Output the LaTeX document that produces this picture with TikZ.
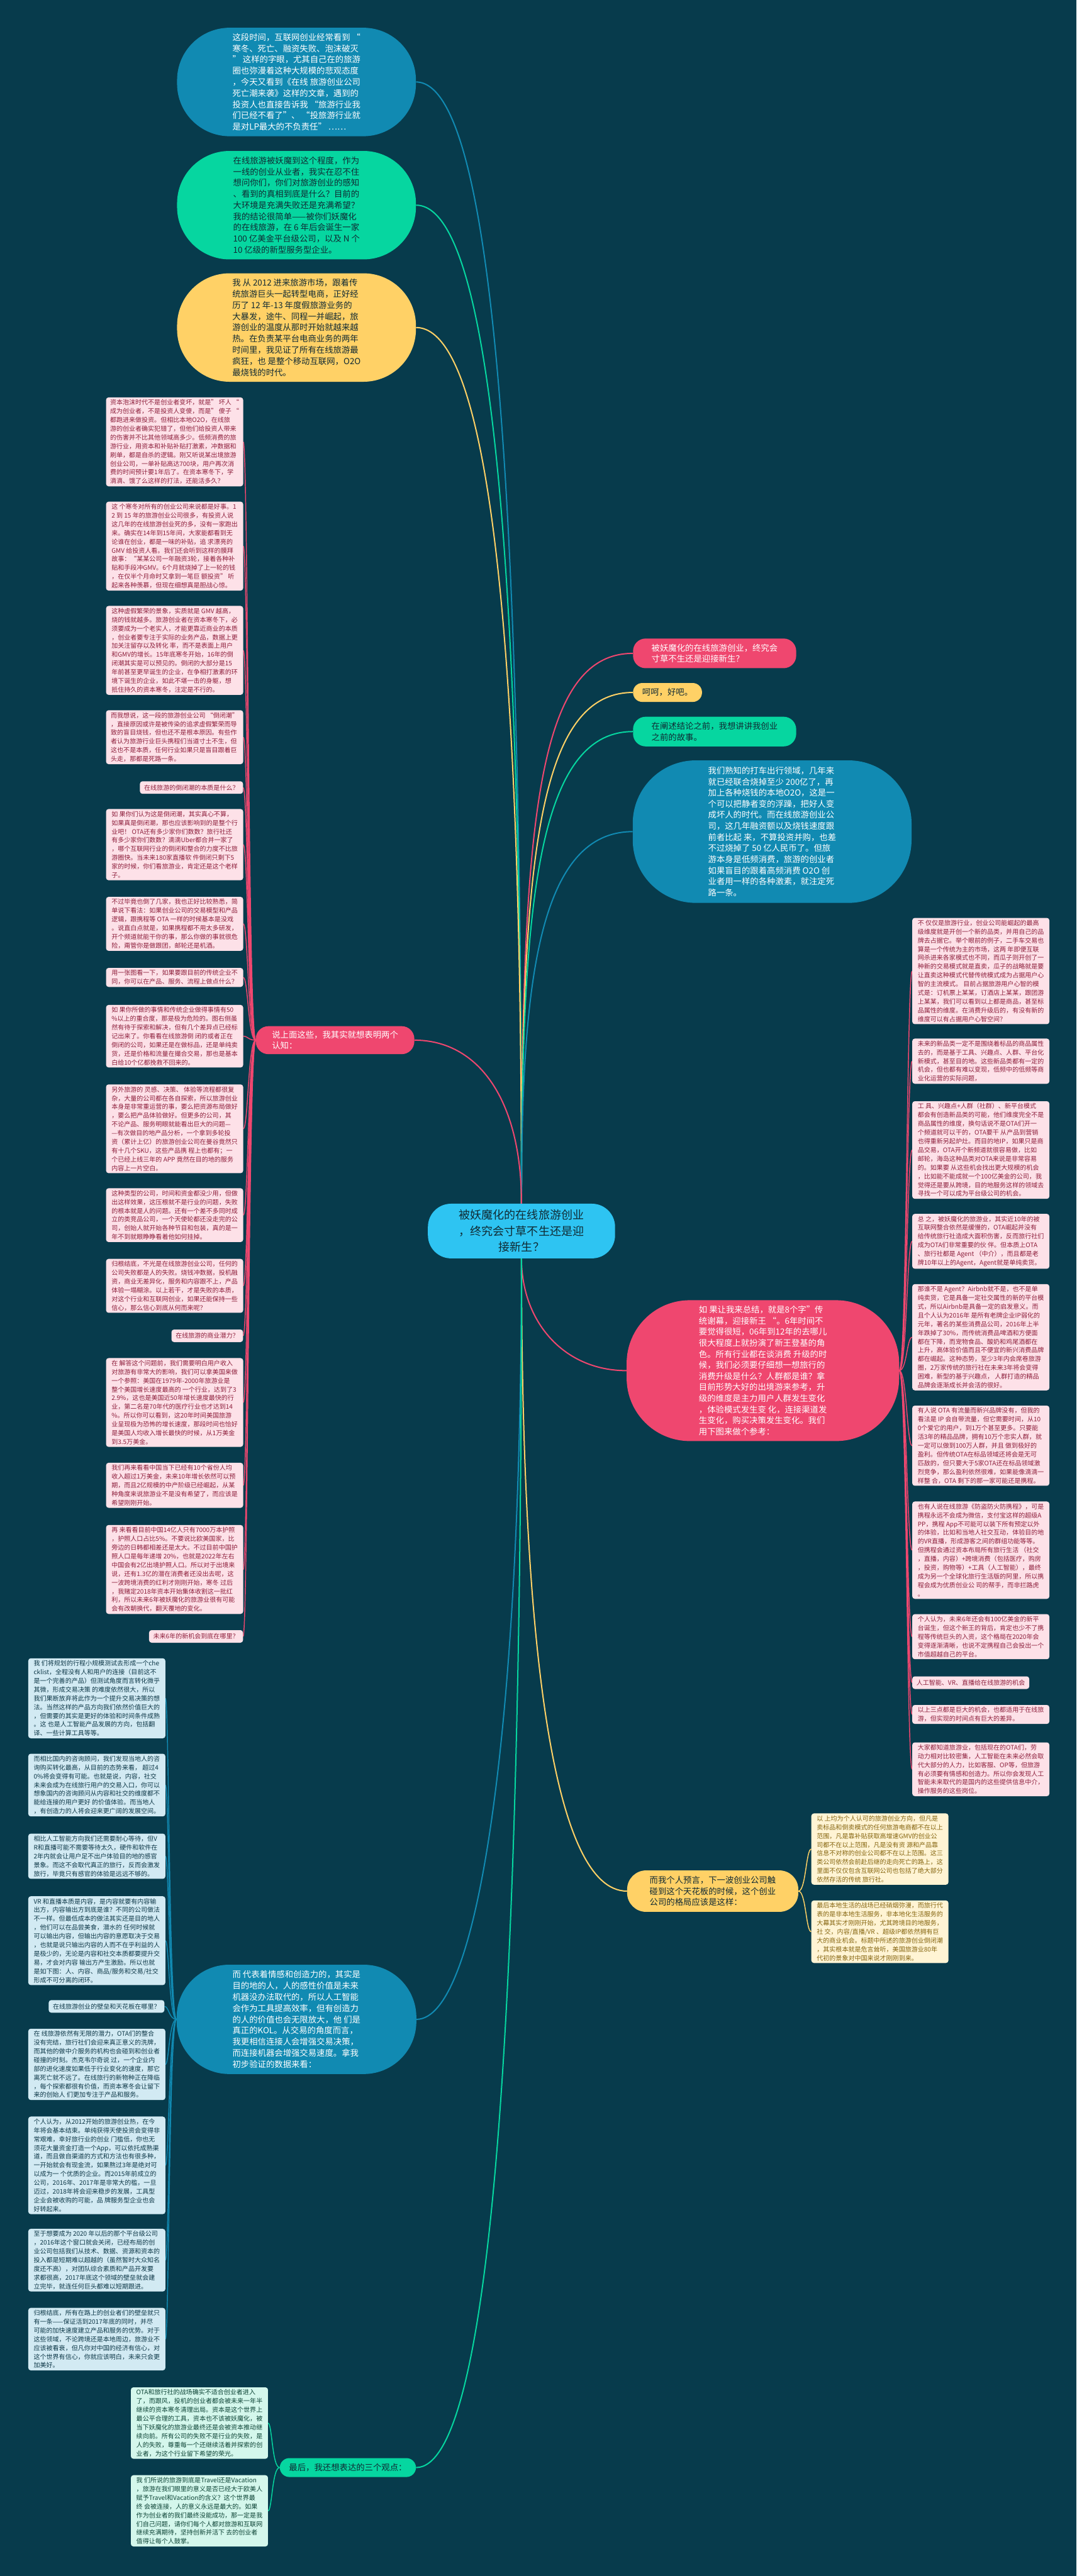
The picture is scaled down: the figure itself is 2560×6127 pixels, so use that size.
\documentclass[tikz,border=0pt]{standalone}
\usepackage{fontspec}
\setmainfont{Noto Sans CJK SC}
\usetikzlibrary{calc}
\pgfdeclarelayer{bg}
\pgfsetlayers{bg,main}
\definecolor{bgc}{HTML}{073B4C}
\definecolor{cpink}{HTML}{EF476F}
\definecolor{cyel}{HTML}{FFD166}
\definecolor{cgrn}{HTML}{06D6A0}
\definecolor{cblu}{HTML}{118AB2}
\definecolor{ccen}{HTML}{2EC4F2}
\definecolor{pinkfill}{HTML}{FDE1E8}
\definecolor{pinktxt}{HTML}{8E1F3C}
\definecolor{blufill}{HTML}{D2EAF3}
\definecolor{blutxt}{HTML}{0E3848}
\definecolor{yelfill}{HTML}{FFF4D4}
\definecolor{yeltxt}{HTML}{85650F}
\definecolor{grnfill}{HTML}{D4F7EC}
\definecolor{grntxt}{HTML}{0D4436}
\definecolor{darktxt}{HTML}{102A33}
\newcommand\mmL[3]{\draw[#1] (#2.west) .. controls ($(#2.west)+(-18,0)$) and ($(#2.west |- #3.east)+(-18,0)$) .. (#3.east);}
\newcommand\mmR[3]{\draw[#1] (#2.east) .. controls ($(#2.east)+(18,0)$) and ($(#2.east |- #3.west)+(18,0)$) .. (#3.west);}
\tikzset{
  leaf/.style={rounded corners=6pt, inner xsep=8pt, inner ysep=5pt, align=left, minimum width=326pt, font=\fontsize{15}{20.8}\selectfont},
  shortleaf/.style={rounded corners=6pt, inner xsep=10pt, inner ysep=8pt, align=left, font=\fontsize{15}{20.8}\selectfont},
  pk/.style={fill=pinkfill, text=pinktxt},
  bu/.style={fill=blufill, text=blutxt},
  ye/.style={fill=yelfill, text=yeltxt},
  gr/.style={fill=grnfill, text=grntxt},
  bubble/.style={rounded corners=125pt, minimum width=568pt, minimum height=258pt, inner sep=0pt, align=left, font=\fontsize{20}{26.6}\selectfont},
  big/.style={rounded corners=150pt, inner sep=0pt, align=left, font=\fontsize{20}{26.4}\selectfont},
  topic/.style={rounded corners=30pt, inner ysep=13pt, align=left, font=\fontsize{20}{26}\selectfont, anchor=west},
  mainline/.style={line width=3pt},
  subline/.style={line width=2.2pt},
}
\begin{document}
\begin{tikzpicture}[x=1pt,y=-1pt]
\begin{pgfonlayer}{bg}
\fill[bgc] (0,0) rectangle (2560,6127);
\end{pgfonlayer}
\useasboundingbox (0,0) rectangle (2560,6127);

% ---------- center ----------
\node[fill=ccen, text=darktxt, rounded corners=55pt, minimum width=445pt, minimum height=130pt, align=center, font=\fontsize{27}{38}\selectfont] (c) at (1240,2928) {被妖魔化的在线旅游创业\\，终究会寸草不生还是迎\\接新生？};

% ---------- top bubbles ----------
\node[bubble, fill=cblu, text=white] (tb) at (705,195) {这段时间，互联网创业经常看到 “\\寒冬、死亡、融资失败、泡沫破灭\\” 这样的字眼，尤其自己在的旅游\\圈也弥漫着这种大规模的悲观态度\\，今天又看到《在线 旅游创业公司\\死亡潮来袭》这样的文章，遇到的\\投资人也直接告诉我 “旅游行业我\\们已经不看了”、 “投旅游行业就\\是对LP最大的不负责任” ……};
\node[bubble, fill=cgrn, text=darktxt] (tg) at (705,488) {在线旅游被妖魔到这个程度，作为\\一线的创业从业者，我实在忍不住\\想问你们，你们对旅游创业的感知\\、看到的真相到底是什么？目前的\\大环境是充满失败还是充满希望？\\我的结论很简单——被你们妖魔化\\的在线旅游，在 6 年后会诞生一家\\100 亿美金平台级公司，以及 N 个\\ 10 亿级的新型服务型企业。};
\node[bubble, fill=cyel, text=darktxt] (ty) at (705,779) {我 从 2012 进来旅游市场，跟着传\\统旅游巨头一起转型电商，正好经\\历了 12 年-13 年度假旅游业务的\\大暴发，途牛、同程一并崛起，旅\\游创业的温度从那时开始就越来越\\热。在负责某平台电商业务的两年\\时间里，我见证了所有在线旅游最\\疯狂，也 是整个移动互联网，O2O\\最烧钱的时代。};

% ---------- right topics ----------
\node[topic, fill=cpink, text=white, inner xsep=37pt, minimum width=388pt] (r1t) at (1505,1554) {被妖魔化的在线旅游创业，终究会\\寸草不生还是迎接新生？};
\node[topic, fill=cyel, text=darktxt, inner xsep=22pt, rounded corners=22pt] (r2t) at (1505,1647) {呵呵，好吧。};
\node[topic, fill=cgrn, text=darktxt, inner xsep=37pt, minimum width=388pt] (r3t) at (1505,1740) {在阐述结论之前，我想讲讲我创业\\之前的故事。};
\node[big, fill=cblu, text=white, minimum width=663pt, minimum height=339pt] (r4t) at (1836,1978) {我们熟知的打车出行领域，几年来\\就已经联合烧掉至少 200亿了，再\\加上各种烧钱的本地O2O，这是一\\个可以把静者变的浮躁，把好人变\\成坏人的时代。而在线旅游创业公\\司，这几年融资额以及烧钱速度跟\\前者比起 来，不算投资并购，也差\\不过烧掉了 50 亿人民币了。但旅\\游本身是低频消费，旅游的创业者\\如果盲目的跟着高频消费 O2O 创\\业者用一样的各种激素，就注定死\\路一条。};

% ---------- left red topic ----------
\node[topic, fill=cpink, text=white, inner xsep=36pt, inner ysep=11pt, minimum width=377pt] (lr) at (608,2474) {说上面这些，我其实就想表明两个\\认知：};

% ---------- left pink leaves ----------
\node[leaf, pk, anchor=north west] (p1) at (252,945) {资本泡沫时代不是创业者变坏，就是” 坏人 “\\成为创业者，不是投资人变傻，而是” 傻子 “\\都跑进来做投资。但相比本地O2O，在线旅\\游的创业者确实犯错了，但他们给投资人带来\\的伤害并不比其他领域高多少。低频消费的旅\\游行业，用资本和补贴补贴打激素，冲数据和\\刷单，都是自杀的逻辑。刚又听说某出境旅游\\创业公司，一单补贴高达700块，用户再次消\\费的时间预计要1年后了。在资本寒冬下，学\\滴滴、饿了么这样的打法，还能活多久？};
\node[leaf, pk, anchor=north west] (p2) at (252,1193) {这 个寒冬对所有的创业公司来说都是好事。1\\2 到 15 年的旅游创业公司很多，有投资人说\\这几年的在线旅游创业死的多，没有一家跑出\\来。确实在14年到15年间，大家能都看到无\\论谁在创业，都是一味的补贴，追 求漂亮的\\GMV 给投资人看。我们还会听到这样的膜拜\\故事：“某某公司一年融资3轮，接着各种补\\贴和手段冲GMV。6个月就烧掉了上一轮的钱\\，在仅半个月命时又拿到一笔巨 额投资” 听\\起来各种羡慕，但现在细想真是胆战心惊。};
\node[leaf, pk, anchor=north west] (p3) at (252,1441) {这种虚假繁荣的景象，实质就是 GMV 越高，\\烧的钱就越多。旅游创业者在资本寒冬下，必\\须要成为一个老实人，才能更靠近商业的本质\\，创业者要专注于实际的业务产品，数据上更\\加关注留存以及转化 率，而不是表面上用户\\和GMV的增长。15年底寒冬开始，16年的倒\\闭潮其实是可以预见的。倒闭的大部分是15\\年前甚至更早诞生的企业，在争相打激素的环\\境下诞生的企业，如此不堪一击的身躯，想\\抵住持久的资本寒冬，注定是不行的。};
\node[leaf, pk, anchor=north west] (p4) at (252,1689) {而我想说，这一段的旅游创业公司 “倒闭潮”\\，直接原因或许是被传染的追求虚假繁荣而导\\致的盲目烧钱，但也还不是根本原因。有些作\\者认为旅游行业巨头携程们当道寸土不生，但\\这也不是本质，任何行业如果只是盲目跟着巨\\头走，那都是死路一条。};
\node[shortleaf, pk, anchor=north east] (p5) at (578,1858) {在线旅游的倒闭潮的本质是什么？};
\node[leaf, pk, anchor=north west] (p6) at (252,1924) {如 果你们认为这是倒闭潮，其实真心不算，\\如果真是倒闭潮，那也应该影响到的是整个行\\业吧！ OTA还有多少家你们数数？旅行社还\\有多少家你们数数？滴滴Uber都合并一家了\\，哪个互联网行业的倒闭和整合的力度不比旅\\游圈快。当未来180家直播软 件倒闭只剩下5\\家的时候，你们看旅游业，肯定还是这个老样\\子。};
\node[leaf, pk, anchor=north west] (p7) at (252,2133) {不过毕竟也倒了几家，我也正好比较熟悉，简\\单说下看法：如果创业公司的交易模型和产品\\逻辑，跟携程等 OTA 一样的时候基本是没戏\\。说直白点就是，如果携程都不用太多研发，\\开个频道就能干你的事，那么你做的事就很危\\险，甭管你是做跟团，邮轮还是机酒。};
\node[leaf, pk, anchor=north west] (p8) at (252,2302) {用一张图看一下，如果要跟目前的传统企业不\\同，你可以在产品、服务、流程上做点什么？};
\node[leaf, pk, anchor=north west] (p9) at (252,2390) {如 果你所做的事情和传统企业做得事情有50\\\%以上的重合度，那是极为危险的。图右侧虽\\然有待于探索和解决，但有几个差异点已经标\\记出来了。你看看在线旅游倒 闭的或者正在\\倒闭的公司，如果还是在做标品，还是单纯卖\\货，还是价格和流量在撮合交易，那也是基本\\白给10个亿都挽救不回来的。};
\node[leaf, pk, anchor=north west] (p10) at (252,2579) {另外旅游的 灵感、决策、 体验等流程都很复\\杂，大量的公司都在各自探索，所以旅游创业\\本身是非常重运营的事，要么把资源布局做好\\，要么把产品体验做好。但更多的公司，其\\不论产品、服务明眼就能看出巨大的问题—\\—有次做目的地产品分析，一个拿到多轮投\\资（累计上亿）的旅游创业公司在曼谷竟然只\\有十几个SKU，这些产品携 程上也都有；一\\个已经上线三年的 APP 竟然在目的地的服务\\内容上一片空白。};
\node[leaf, pk, anchor=north west] (p11) at (252,2826) {这种类型的公司，时间和资金都没少用，但做\\出这样效果，这压根就不是行业的问题，失败\\的根本就是人的问题。还有一个差不多同时成\\立的类竞品公司，一个天使轮都还没走完的公\\司，创始人就开始各种节目和包装，真的是一\\年不到就眼睁睁看着他如何挂掉。};
\node[leaf, pk, anchor=north west] (p12) at (252,2994) {归根结底，不光是在线旅游创业公司，任何的\\公司失败都是人的失败。烧钱冲数据，投机融\\资，商业无差异化，服务和内容跟不上，产品\\体验一塌糊涂。以上若干，才是失败的本质，\\对这个行业和互联网创业，如果还能保持一些\\信心，那么信心到底从何而来呢？};
\node[shortleaf, pk, anchor=north east] (p13) at (578,3162) {在线旅游的商业潜力？};
\node[leaf, pk, anchor=north west] (p14) at (252,3230) {在 解答这个问题前，我们需要明白用户收入\\对旅游有非常大的影响，我们可以拿美国来做\\一个参照：美国在1979年-2000年旅游业是\\整个美国增长速度最高的 一个行业，达到了3\\2.9\%，这也是美国近50年增长速度最快的行\\业，第二名是70年代的医疗行业也才达到14\\\%。所以你可以看到，这20年时间美国旅游\\业呈现极为恐怖的增长速度，那段时间也恰好\\是美国人均收入增长最快的时候，从1万美金\\到3.5万美金。};
\node[leaf, pk, anchor=north west] (p15) at (252,3479) {我们再来看看中国当下已经有10个省份人均\\收入超过1万美金，未来10年增长依然可以预\\期，而且2亿规模的中产阶级已经崛起，从某\\种角度来说旅游业不是没有希望了，而应该是\\希望刚刚开始。};
\node[leaf, pk, anchor=north west] (p16) at (252,3627) {再 来看看目前中国14亿人只有7000万本护照\\，护照人口占比5\%。不要说比欧美国家，比\\旁边的日韩都相差还是太大。不过目前中国护\\照人口是每年递增 20\%，也就是2022年左右\\中国会有2亿出境护照人口。所以对于出境来\\说，还有1.3亿的潜在消费者还没出去呢，这\\一波跨境消费的红利才刚刚开始，寒冬 过后\\，我赌定2018年资本开始集体收割这一批红\\利，所以未来6年被妖魔化的旅游业很有可能\\会有改朝换代，翻天覆地的变化。};
\node[shortleaf, pk, anchor=north east] (p17) at (578,3877) {未来6年的新机会到底在哪里？};

% ---------- right red ellipse + leaves ----------
\node[big, fill=cpink, text=white, minimum width=648pt, minimum height=335pt] (re) at (1814,3260) {如 果让我来总结，就是8个字”传\\统谢幕，迎接新王 “。6年时间不\\要觉得很短，06年到12年的去哪儿\\很大程度上就扮演了新王登基的角\\色。所有行业都在谈消费 升级的时\\候，我们必须要仔细想一想旅行的\\消费升级是什么？人群都是谁？拿\\目前形势大好的出境游来参考，升\\级的维度是主力用户人群发生变化\\，体验模式发生变 化，连接渠道发\\生变化，购买决策发生变化。我们\\用下图来做个参考：};
\node[leaf, pk, anchor=north west] (r1) at (2169,2183) {不 仅仅是旅游行业，创业公司能崛起的最高\\级维度就是开创一个新的品类，并用自己的品\\牌去占据它。举个眼前的例子，二手车交易也\\算是一个传统为主的市场，这两 年即便互联\\网杀进来各家模式也不同，而瓜子则开创了一\\种新的交易模式就是直卖，瓜子的战略就是要\\让直卖这种模式代替传统模式成为占据用户心\\智的主流模式。 目前占据旅游用户心智的模\\式是：订机票上某某，订酒店上某某，跟团游\\上某某，我们可以看到以上都是商品，甚至标\\品属性的维度。在消费升级后的，有没有新的\\维度可以有占据用户心智空间？};
\node[leaf, pk, anchor=north west] (r2) at (2169,2470) {未来的新品类一定不是围绕着标品的商品属性\\去的，而是基于工具、兴趣点、人群、平台化\\新模式，甚至目的地。这些新品类都有一定的\\机会，但也都有难以变现，低频中的低频等商\\业化运营的实际问题，};
\node[leaf, pk, anchor=north west] (r3) at (2169,2619) {工 具、兴趣点+人群（社群）、新平台模式\\都会有创造新品类的可能，他们维度完全不是\\商品属性的维度，换句话说不是OTA们开一\\个频道就可以干的，OTA要干 从产品到营销\\也得重新另起炉灶。而目的地IP，如果只是商\\品交易，OTA开个新频道就很容易做，比如\\邮轮，海岛这种品类对OTA来说是非常容易\\的。如果要 从这些机会找出更大规模的机会\\，比如能不能成就一个100亿美金的公司，我\\觉得还是要从跨境，目的地服务这样的领域去\\寻找一个可以成为平台级公司的机会。};
\node[leaf, pk, anchor=north west] (r4) at (2169,2887) {总 之，被妖魔化的旅游业，其实近10年的被\\互联网整合依然是缓慢的，OTA崛起并没有\\给传统旅行社造成大面积伤害，反而旅行社们\\成为OTA们非常重要的伙 伴。但本质上OTA\\、旅行社都是 Agent （中介），而且都是老\\牌10年以上的Agent，Agent就是单纯卖货。};
\node[leaf, pk, anchor=north west] (r5) at (2169,3054) {那谁不是 Agent？Airbnb就不是，也不是单\\纯卖货，它是具备一定社交属性的新的平台模\\式，所以Airbnb是具备一定的启发意义。而\\且个人认为2016年 是所有老牌企业IP弱化的\\元年，著名的某些消费品公司，2016年上半\\年跌掉了30\%，而传统消费品啤酒和方便面\\都在下降，而宠物食品、酸奶和鸡尾酒都在\\上升，高体验价值而且不便宜的新兴消费品牌\\都在崛起。这种态势，至少3年内会席卷旅游\\圈，2万家传统的旅行社在未来3年将会变得\\困难，新型的基于兴趣点， 人群打造的精品\\品牌会逐渐成长并会活的很好。};
\node[leaf, pk, anchor=north west] (r6) at (2169,3343) {有人说 OTA 有流量而新兴品牌没有，但我的\\看法是 IP 会自带流量，但它需要时间，从10\\0个爱它的用户，到1万个甚至更多。只要能\\活3年的精品品牌，拥有10万个忠实人群，就\\一定可以做到100万人群，并且 做到极好的\\盈利。但传统OTA在标品领域还将会是无可\\匹敌的，但只要大于5家OTA还在标品领域激\\烈竞争，那么盈利依然很难，如果能像滴滴一\\样整 合，OTA 剩下的那一家可能还是携程。};
\node[leaf, pk, anchor=north west] (r7) at (2169,3571) {也有人说在线旅游《防盗防火防携程》，可是\\携程永远不会成为微信，支付宝这样的超级A\\PP，携程 App不可能可以装下所有预定以外\\的体验，比如和当地人社交互动，体验目的地\\的VR直播，形成游客之间的群组功能等等。\\但携程会通过资本布局所有旅行生活 （社交\\，直播，内容）+跨境消费（包括医疗，购房\\，投资，购物等）+工具（人工智能），最终\\成为另一个全球化旅行生活版的阿里，所以携\\程会成为优质创业公 司的帮手，而非拦路虎\\。};
\node[leaf, pk, anchor=north west] (r8) at (2169,3839) {个人认为，未来6年还会有100亿美金的新平\\台诞生，但这个新王的背后，肯定也少不了携\\程等传统巨头的入资，这个格局在2020年会\\变得逐渐清晰，也说不定携程自己会投出一个\\市值超越自己的平台。};
\node[shortleaf, pk, anchor=north west] (r9) at (2169,3987) {人工智能、VR、直播给在线旅游的机会};
\node[leaf, pk, anchor=north west] (r10) at (2169,4055) {以上三点都是巨大的机会，也都适用于在线旅\\游，但实现的时间点有巨大的差异。};
\node[leaf, pk, anchor=north west] (r11) at (2169,4144) {大家都知道旅游业，包括现在的OTA们，劳\\动力相对比较密集，人工智能在未来必然会取\\代大部分的人力，比如客服、OP等，但旅游\\有必须要有情感和创造力。所以你会发现人工\\智能未来取代的是国内的这些提供信息中介，\\操作服务的这些岗位。};

% ---------- yellow topic + leaves ----------
\node[topic, fill=cyel, text=darktxt, inner xsep=48pt, inner ysep=14pt, rounded corners=45pt, minimum width=407pt] (yn) at (1491,4498) {而我个人预言，下一波创业公司触\\碰到这个天花板的时候，这个创业\\公司的格局应该是这样：};
\node[leaf, ye, anchor=north west] (y1) at (1929,4313) {以 上均为个人认可的旅游创业方向，但凡是\\卖标品和倒卖模式的任何旅游电商都不在以上\\范围，凡是靠补贴获取高增速GMV的创业公\\司都不在以上范围，凡是没有资 源和产品靠\\信息不对称的创业公司都不在以上范围。这三\\类公司依然会前赴后继的走向死亡的路上，这\\里面不仅仅包含互联网公司也包括了绝大部分\\依然存活的传统 旅行社。};
\node[leaf, ye, anchor=north west] (y2) at (1929,4520) {最后本地生活的战场已经硝烟弥漫，而旅行代\\表的是非本地生活服务，非本地化生活服务的\\大幕其实才刚刚开始，尤其跨境目的地服务，\\社 交，内容/直播/VR 、超级IP都依然拥有巨\\大的商业机会。标题中所述的旅游创业倒闭潮\\，其实根本就是危言耸听，美国旅游业80年\\代初的景象对中国来说才刚刚到来。};

% ---------- bottom blue bubble + leaves ----------
\node[bubble, fill=cblu, text=white, minimum width=570pt, minimum height=260pt] (bb) at (705,4803) {而 代表着情感和创造力的，其实是\\目的地的人，人的感性价值是未来\\机器没办法取代的，所以人工智能\\会作为工具提高效率，但有创造力\\的人的价值也会无限放大，他 们是\\真正的KOL。从交易的角度而言，\\我更相信连接人会增强交易决策，\\而连接机器会增强交易速度。拿我\\初步验证的数据来看：};
\node[leaf, bu, anchor=north west] (b1) at (67,3944) {我 们将规划的行程小规模测试去形成一个che\\cklist，全程没有人和用户的连接（目前这不\\是一个完善的产品）但测试角度而言转化微乎\\其微，形成交易决策 的难度依然很大，所以\\我们果断放弃将此作为一个提升交易决策的想\\法。当然这样的产品方向我们依然价值巨大的\\，但需要的其实是更好的体验和时间条件成熟\\。这 也是人工智能产品发展的方向，包括翻\\译、一些计算工具等等。};
\node[leaf, bu, anchor=north west] (b2) at (67,4171) {而相比国内的咨询顾问，我们发现当地人的咨\\询购买转化最高，从目前的态势来看， 超过4\\0\%将会变得有可能。也就是说，内容，社交\\未来会成为在线旅行用户的交易入口，你可以\\想象国内的咨询顾问从内容和社交的维度都不\\能给连接的用户更好 的价值体验。而当地人\\，有创造力的人将会迎来更广阔的发展空间。};
\node[leaf, bu, anchor=north west] (b3) at (67,4361) {相比人工智能方向我们还需要耐心等待，但V\\R和直播可能不需要等待太久，硬件和软件在\\2年内就会让用户足不出户体验目的地的感官\\景象。而这不会取代真正的旅行，反而会激发\\旅行，毕竟只有感官的体验是远远不够的。};
\node[leaf, bu, anchor=north west] (b4) at (67,4510) {VR 和直播本质是内容，是内容就要有内容输\\出方，内容输出方到底是谁？不同的公司做法\\不一样。但最低成本的做法其实还是目的地人\\，他们可以在品尝美食，潜水的 任何时候就\\可以输出内容，但输出内容的意愿取决于交易\\，也就是说只输出内容的人而不在乎利益的人\\是极少的，无论是内容和社交本质都要提升交\\易，才会对内容 输出方产生激励。所以也就\\是如下图：人、内容、商品/服务和交易/社交\\形成不可分离的闭环。};
\node[shortleaf, bu, anchor=north east] (b5) at (391,4757) {在线旅游创业的壁垒和天花板在哪里？};
\node[leaf, bu, anchor=north west] (b6) at (67,4825) {在 线旅游依然有无限的潜力，OTA们的整合\\没有完结，旅行社们会迎来真正意义的洗牌，\\而其他的做中介服务的机构也会碰到和创业者\\碰撞的时刻。杰克韦尔奇说 过，一个企业内\\部的进化速度如果低于行业变化的速度，那它\\离死亡就不远了。在线旅行的新物种正在降临\\，每个探索都很有价值，而资本寒冬会让留下\\来的创始人 们更加专注于产品和服务。};
\node[leaf, bu, anchor=north west] (b7) at (67,5034) {个人认为，从2012开始的旅游创业热，在今\\年将会基本结束。单纯获得天使投资会变得非\\常艰难，幸好旅行业的创业 门槛低，你也无\\须花大量资金打造一个App，可以依托成熟渠\\道，而且做自渠道的方式和方法也有很多种，\\一开始就会有现金流，如果熬过3年是绝对可\\以成为一 个优质的企业。而2015年前成立的\\公司，2016年、2017年是非常大的槛，一旦\\迈过，2018年将会迎来稳步的发展，工具型\\企业会被收购的可能，品 牌服务型企业也会\\好转起来。};
\node[leaf, bu, anchor=north west] (b8) at (67,5301) {至于想要成为 2020 年以后的那个平台级公司\\，2016年这个窗口就会关闭，已经布局的创\\业公司包括我们从技术、数据、资源和资本的\\投入都是短期难以超越的（虽然暂时大众知名\\度还不高），对团队综合素质和产品开发要\\求都很高，2017年底这个领域的壁垒就会建\\立完毕，就连任何巨头都难以短期跟进。};
\node[leaf, bu, anchor=north west] (b9) at (67,5489) {归根结底，所有在路上的创业者们的壁垒就只\\有一条——保证活到2017年底的同时，并尽\\可能的加快速度建立产品和服务的优势。对于\\这些领域，不论跨境还是本地周边，旅游业不\\应该被看衰，但凡你对中国的经济有信心，对\\这个世界有信心，你就应该明白，未来只会更\\加美好。};

% ---------- green bottom topic + leaves ----------
\node[topic, fill=cgrn, text=darktxt, inner xsep=22pt, rounded corners=23pt] (gn) at (665,5869) {最后，我还想表达的三个观点：};
\node[leaf, gr, anchor=north west] (m1) at (311,5678) {OTA和旅行社的战场确实不适合创业者进入\\了，而跟风，投机的创业者都会被未来一年半\\继续的资本寒冬清理出局。资本是这个世界上\\最公平合理的工具，资本也不该被妖魔化，被\\当下妖魔化的旅游业最终还是会被资本推动继\\续向前。所有公司的失败不是行业的失败，是\\人的失败，尊重每一个还继续活着并探索的创\\业者，为这个行业留下希望的荣光。};
\node[leaf, gr, anchor=north west] (m2) at (311,5887) {我 们所说的旅游到底是Travel还是Vacation\\，旅游在我们眼里的意义是否已经大于欧美人\\赋予Travel和Vacation的含义？这个世界最\\终 会被连接，人的意义永远是最大的。如果\\作为创业者的我们最终没能成功，那一定是我\\们自己问题，请你们每个人都对旅游和互联网\\继续充满期待，坚持创新并活下 去的创业者\\值得让每个人鼓掌。};

% ---------- connectors ----------
\begin{pgfonlayer}{bg}
\draw[mainline, cblu] (c.north) .. controls +(0,-1500) and +(200,0) .. (tb.east);
\draw[mainline, cgrn] (c.north) .. controls +(0,-1300) and +(200,0) .. (tg.east);
\draw[mainline, cyel] (c.north) .. controls +(0,-1100) and +(200,0) .. (ty.east);
\draw[mainline, cpink] (c.north) .. controls +(0,-900) and +(-230,0) .. (r1t.west);
\draw[mainline, cyel] (c.north) .. controls +(0,-800) and +(-230,0) .. (r2t.west);
\draw[mainline, cgrn] (c.north) .. controls +(0,-700) and +(-230,0) .. (r3t.west);
\draw[mainline, cblu] (c.north) .. controls +(0,-500) and +(-230,0) .. (r4t.west);
\draw[mainline, cpink] (c.north) .. controls +(0,-250) and +(150,0) .. (lr.east);
\draw[mainline, cpink] (c.south) .. controls +(0,150) and +(-150,0) .. (re.west);
\draw[mainline, cblu] (c.south) .. controls +(0,1100) and +(150,0) .. (bb.east);
\draw[mainline, cyel] (c.south) .. controls +(0,900) and +(-180,0) .. (yn.west);
\draw[mainline, cgrn] (c.south) .. controls +(0,1800) and +(180,0) .. (gn.east);
\foreach \k in {p1,p2,p3,p4,p5,p6,p7,p8,p9,p10,p11,p12,p13,p14,p15,p16,p17} {\mmL{subline, cpink}{lr}{\k}}
\foreach \k in {r1,r2,r3,r4,r5,r6,r7,r8,r9,r10,r11} {\mmR{subline, cpink}{re}{\k}}
\foreach \k in {y1,y2} {\mmR{subline, cyel}{yn}{\k}}
\foreach \k in {b1,b2,b3,b4,b5,b6,b7,b8,b9} {\mmL{subline, cblu}{bb}{\k}}
\foreach \k in {m1,m2} {\mmL{subline, cgrn}{gn}{\k}}
\end{pgfonlayer}
\end{tikzpicture}
\end{document}
